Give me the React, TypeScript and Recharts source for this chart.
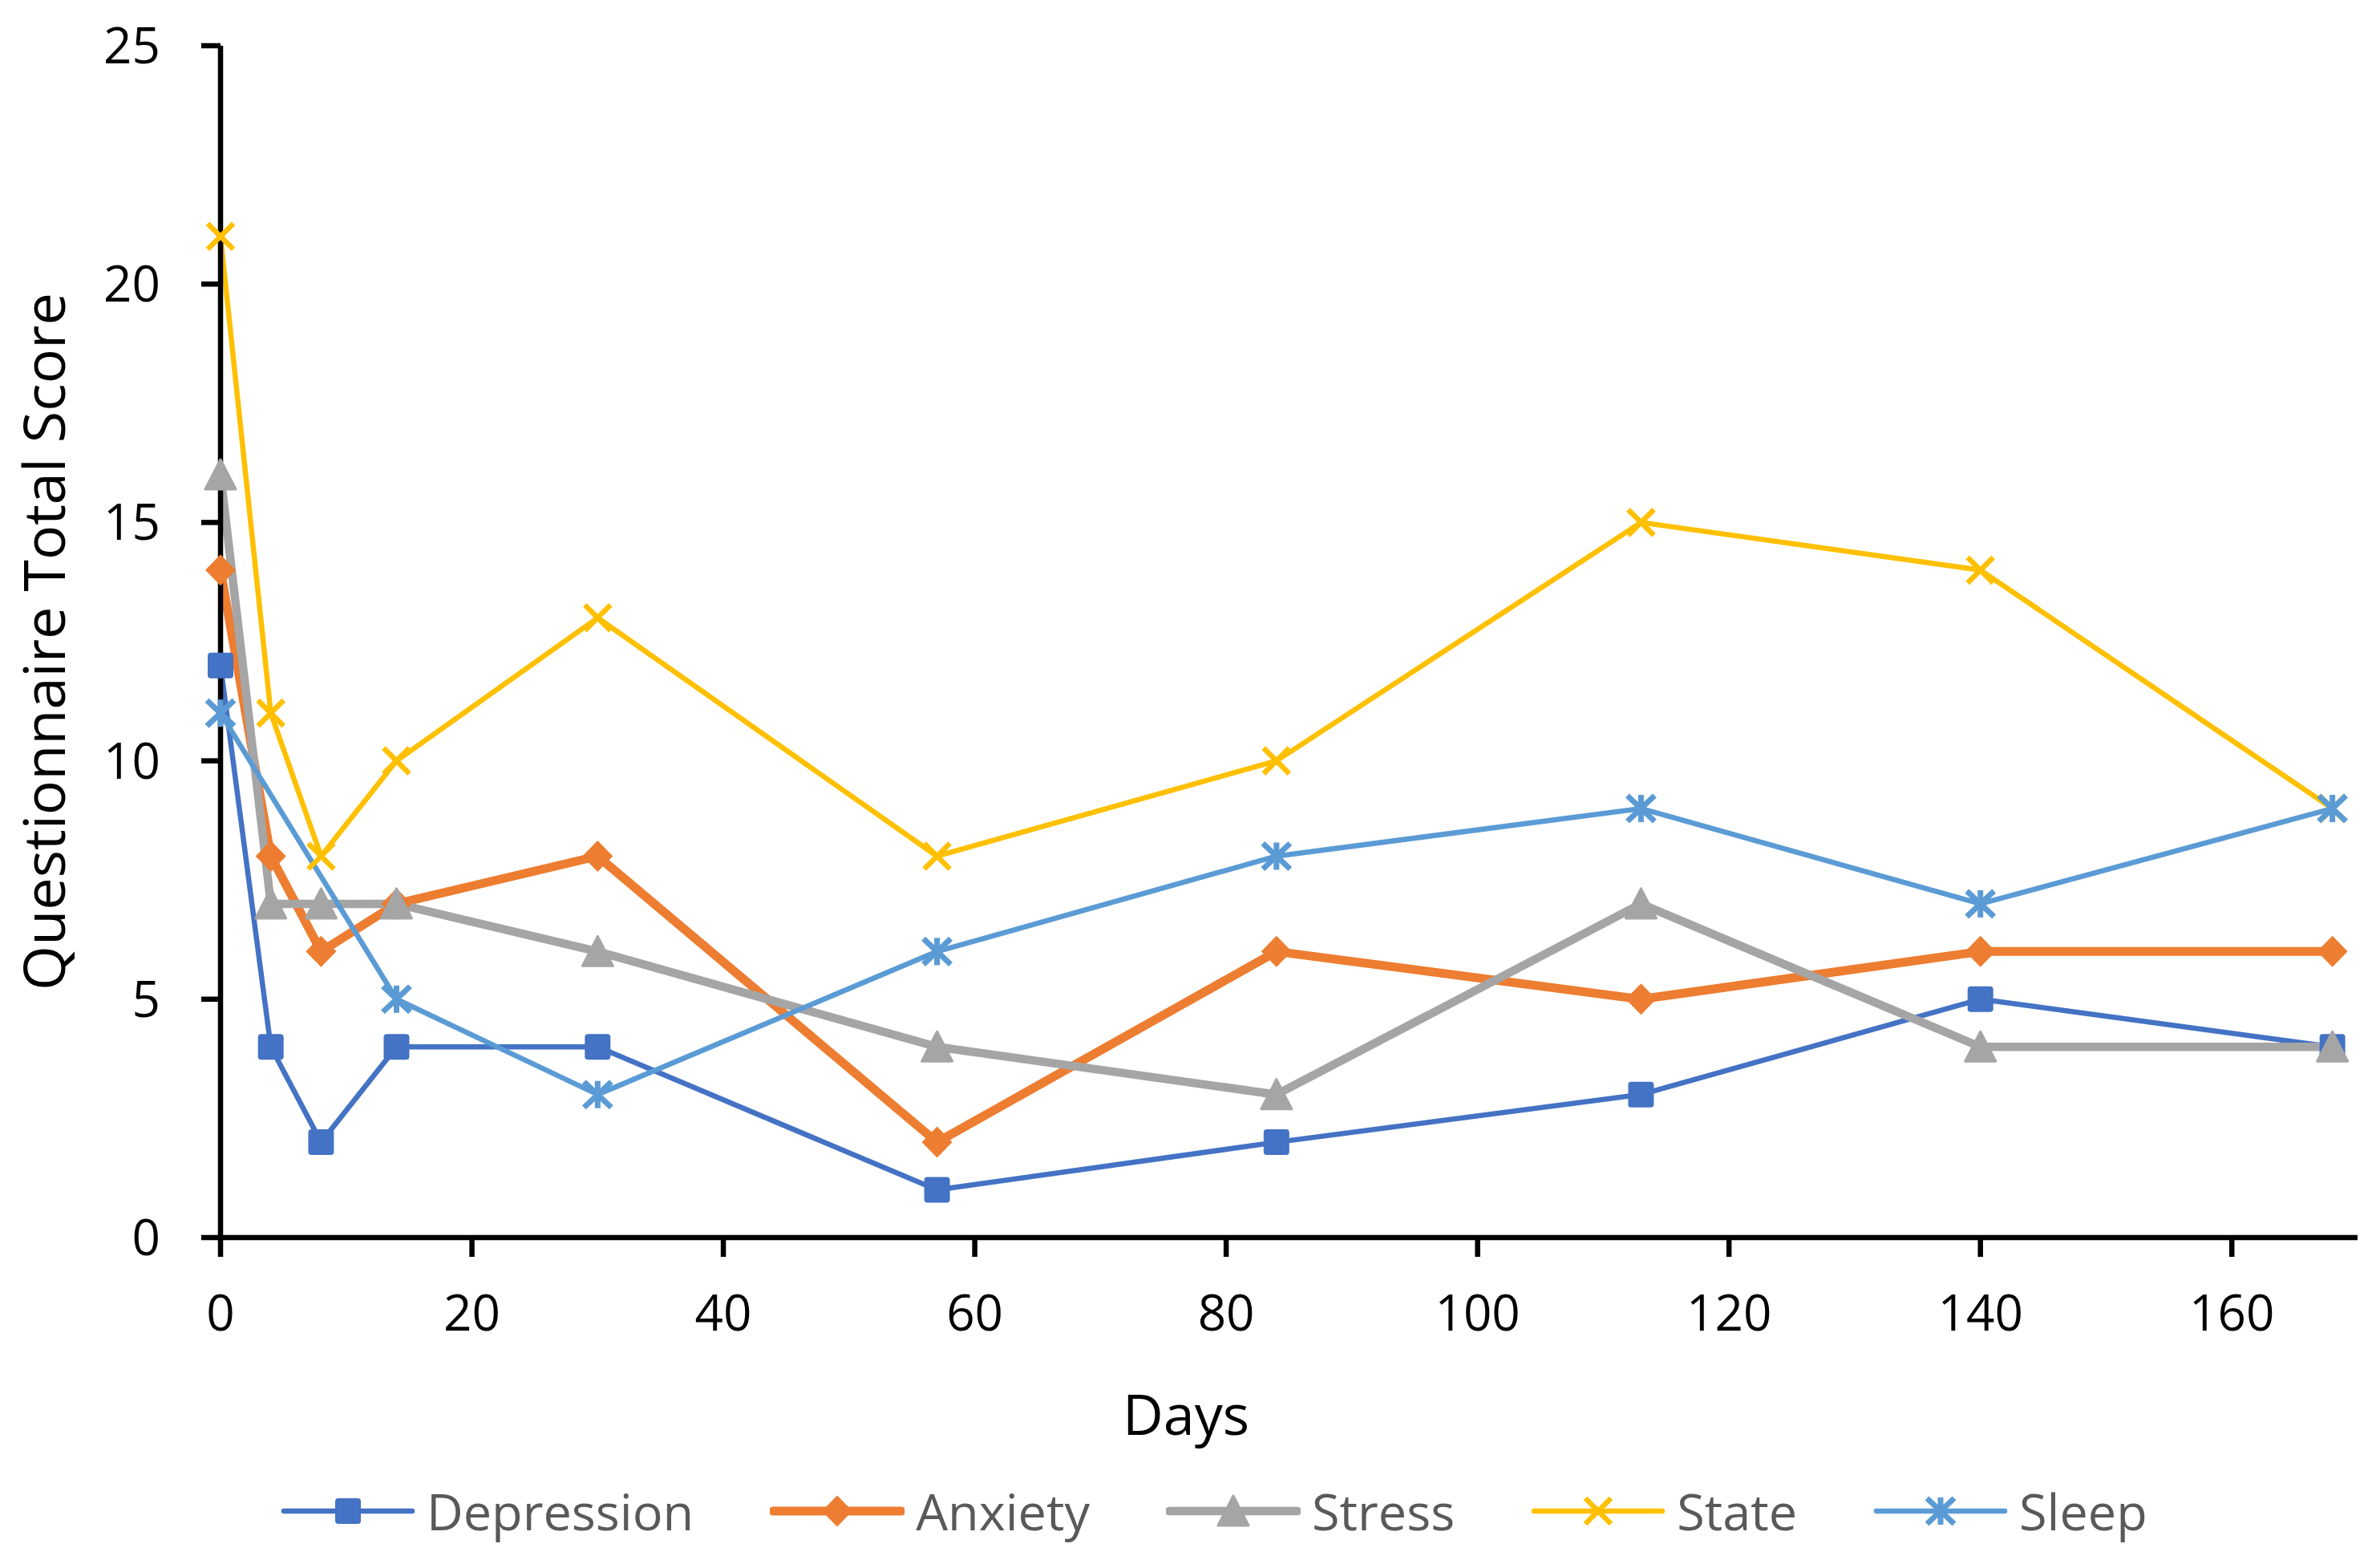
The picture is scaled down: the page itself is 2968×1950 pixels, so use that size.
import * as React from "react";
import { Legend, Line, LineChart, XAxis, YAxis } from "recharts";

const FONT = "'Open Sans', 'Noto Sans', sans-serif";

const DAYS = [0, 4, 8, 14, 30, 57, 84, 113, 140, 168];
const DEPRESSION = [12, 4, 2, 4, 4, 1, 2, 3, 5, 4];
const ANXIETY = [14, 8, 6, 7, 8, 2, 6, 5, 6, 6];
const STRESS = [16, 7, 7, 7, 6, 4, 3, 7, 4, 4];
const STATE = [21, 11, 8, 10, 13, 8, 10, 15, 14, 9];
const SLEEP = [11, null, null, 5, 3, 6, 8, 9, 7, 9];

const X_TICKS = [0, 20, 40, 60, 80, 100, 120, 140, 160];
const Y_TICKS = [0, 5, 10, 15, 20, 25];

type MarkerKind = "square" | "diamond" | "triangle" | "x" | "star";

type Series = {
  key: string;
  label: string;
  color: string;
  width: number;
  marker: MarkerKind;
};

const SERIES: Series[] = [
  { key: "depression", label: "Depression", color: "#4472C4", width: 6.5, marker: "square" },
  { key: "anxiety", label: "Anxiety", color: "#ED7D31", width: 11, marker: "diamond" },
  { key: "stress", label: "Stress", color: "#A5A5A5", width: 10.5, marker: "triangle" },
  { key: "state", label: "State", color: "#FFC000", width: 6.5, marker: "x" },
  { key: "sleep", label: "Sleep", color: "#5B9BD5", width: 6.5, marker: "star" },
];

const data = DAYS.map((day, i) => ({
  day,
  depression: DEPRESSION[i],
  anxiety: ANXIETY[i],
  stress: STRESS[i],
  state: STATE[i],
  sleep: SLEEP[i],
}));

function Marker({ kind, cx, cy, color }: { kind: MarkerKind; cx: number; cy: number; color: string }) {
  if (kind === "square") {
    return <rect x={cx - 16} y={cy - 16} width={32} height={32} rx={4} fill={color} />;
  }
  if (kind === "diamond") {
    const pts = [
      [cx, cy - 19.5],
      [cx + 19, cy],
      [cx, cy + 19.5],
      [cx - 19, cy],
    ];
    return <polygon points={pts.map((p) => p.join(",")).join(" ")} fill={color} />;
  }
  if (kind === "triangle") {
    return (
      <polygon
        points={`${cx},${cy - 19} ${cx + 19},${cy + 18} ${cx - 19},${cy + 18}`}
        fill={color}
        stroke={color}
        strokeWidth={3}
        strokeLinejoin="round"
      />
    );
  }
  if (kind === "x") {
    return (
      <g stroke={color} strokeWidth={6.5}>
        <line x1={cx - 16} y1={cy - 16} x2={cx + 16} y2={cy + 16} />
        <line x1={cx - 16} y1={cy + 16} x2={cx + 16} y2={cy - 16} />
      </g>
    );
  }
  return (
    <g stroke={color} strokeWidth={7}>
      <line x1={cx} y1={cy - 17} x2={cx} y2={cy + 17} />
      <line x1={cx - 17} y1={cy - 16} x2={cx + 17} y2={cy + 16} />
      <line x1={cx - 17} y1={cy + 16} x2={cx + 17} y2={cy - 16} />
    </g>
  );
}

function makeDot(s: Series) {
  return (props: any) => {
    const { cx, cy, index } = props;
    if (cx == null || cy == null || Number.isNaN(cx) || Number.isNaN(cy)) {
      return <g key={`${s.key}-${index}`} />;
    }
    return (
      <g key={`${s.key}-${index}`}>
        <Marker kind={s.marker} cx={cx} cy={cy} color={s.color} />
      </g>
    );
  };
}

function LegendContent() {
  return (
    <div style={{ display: "flex", alignItems: "center", height: 88, paddingLeft: 350 }}>
      {SERIES.map((s, idx) => (
        <div
          key={s.key}
          style={{ display: "flex", alignItems: "center", marginLeft: idx === 0 ? 0 : 95 }}
        >
          <svg width={168} height={48} style={{ display: "block" }}>
            <line x1={4} y1={24} x2={164} y2={24} stroke={s.color} strokeWidth={s.width} strokeLinecap="round" />
            <Marker kind={s.marker} cx={84} cy={24} color={s.color} />
          </svg>
          <span
            style={{
              marginLeft: 14,
              fontSize: 63,
              lineHeight: "88px",
              color: "#595959",
              fontFamily: FONT,
            }}
          >
            {s.label}
          </span>
        </div>
      ))}
    </div>
  );
}

export default function App() {
  return (
    <div style={{ position: "absolute", left: 0, top: 0, width: 2968, height: 1950, background: "#fff" }}>
      <LineChart
        width={2968}
        height={1950}
        data={data}
        margin={{ top: 57, right: 28, left: 0, bottom: 0 }}
      >
        <XAxis
          dataKey="day"
          type="number"
          domain={[0, 170]}
          ticks={X_TICKS}
          interval={0}
          height={407}
          axisLine={{ stroke: "#000", strokeWidth: 6.5 }}
          tickLine={{ stroke: "#000", strokeWidth: 6.5 }}
          tickSize={24}
          tickMargin={48}
          tick={{ fill: "#000", fontSize: 62, fontFamily: FONT }}
          label={{
            content: () => (
              <text
                x={1479}
                y={1789}
                textAnchor="middle"
                fontSize={70}
                fontFamily={FONT}
                fill="#000"
              >
                Days
              </text>
            ),
          }}
        />
        <YAxis
          type="number"
          domain={[0, 25]}
          ticks={Y_TICKS}
          interval={0}
          width={275}
          axisLine={{ stroke: "#000", strokeWidth: 6.5 }}
          tickLine={{ stroke: "#000", strokeWidth: 6.5 }}
          tickSize={24}
          tickMargin={51}
          tick={{ fill: "#000", fontSize: 62, fontFamily: FONT }}
          label={{
            content: () => (
              <text
                x={81}
                y={800}
                transform="rotate(-90, 81, 800)"
                textAnchor="middle"
                fontSize={72}
                fontFamily={FONT}
                fill="#000"
              >
                Questionnaire Total Score
              </text>
            ),
          }}
        />
        <Legend
          layout="horizontal"
          verticalAlign="middle"
          align="center"
          wrapperStyle={{ top: 1840, left: 0, width: 2968, height: 88 }}
          content={() => <LegendContent />}
        />
        {SERIES.map((s) => (
          <Line
            key={s.key}
            type="linear"
            dataKey={s.key}
            name={s.label}
            stroke={s.color}
            strokeWidth={s.width}
            strokeLinejoin="round"
            dot={makeDot(s)}
            activeDot={false}
            connectNulls
            isAnimationActive={false}
          />
        ))}
      </LineChart>
    </div>
  );
}
